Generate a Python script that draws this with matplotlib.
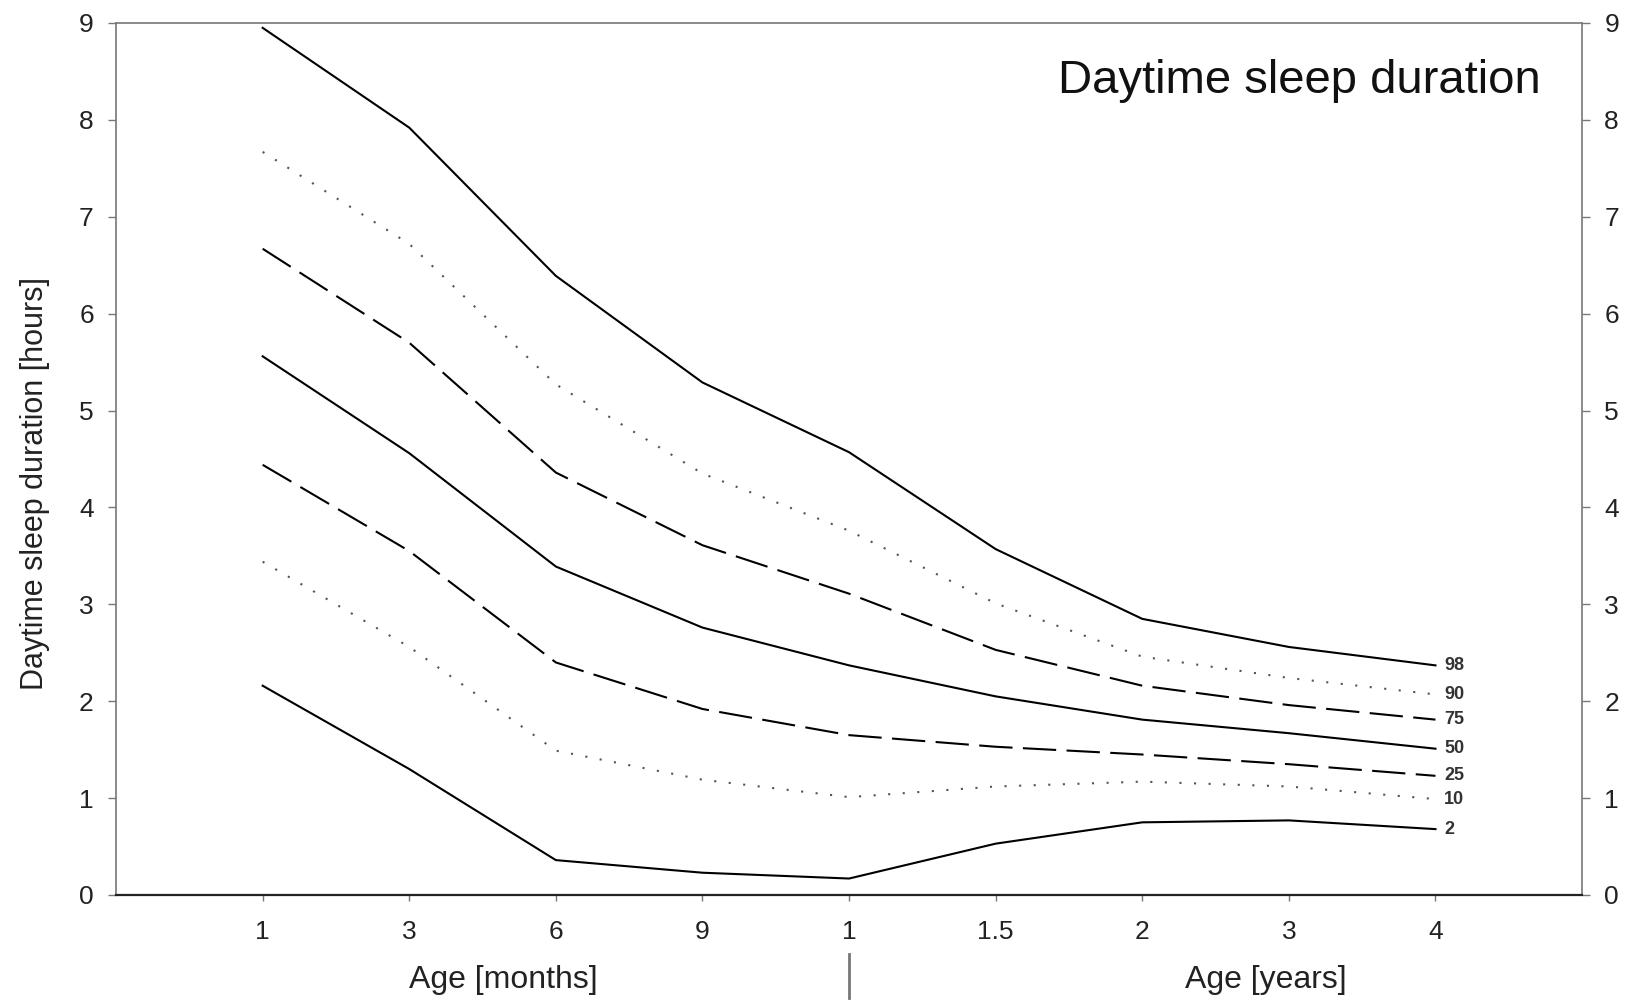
import numpy as np
import matplotlib
matplotlib.use("Agg")
import matplotlib.pyplot as plt
import matplotlib.transforms as mtransforms

plt.rcParams['font.family'] = ['Liberation Sans', 'DejaVu Sans']

# age categories on the x axis (months, then years)
tick_labels = ['1', '3', '6', '9', '1', '1.5', '2', '3', '4']

# percentile curves, daytime sleep in hours
p98 = [8.95, 7.92, 6.39, 5.29, 4.57, 3.57, 2.85, 2.56, 2.37]
p90 = [7.67, 6.72, 5.27, 4.35, 3.76, 3.01, 2.46, 2.24, 2.07]
p75 = [6.67, 5.70, 4.36, 3.61, 3.11, 2.53, 2.16, 1.96, 1.81]
p50 = [5.56, 4.56, 3.39, 2.76, 2.37, 2.05, 1.81, 1.67, 1.51]
p25 = [4.44, 3.55, 2.40, 1.92, 1.65, 1.53, 1.45, 1.35, 1.23]
p10 = [3.44, 2.56, 1.49, 1.19, 1.01, 1.12, 1.17, 1.12, 0.99]
p02 = [2.16, 1.30, 0.36, 0.23, 0.17, 0.53, 0.75, 0.77, 0.68]

pct_names = ['98', '90', '75', '50', '25', '10', '2']
curves = [p98, p90, p75, p50, p25, p10, p02]

solid = dict(color='black', lw=1.5, linestyle='-')
dotted = dict(color='#555555', lw=1.5, linestyle=(0, (1, 6)))
dashed = dict(color='black', lw=1.5, linestyle=(0, (16, 5)))
styles = [solid, dotted, dashed, solid, dashed, dotted, solid]

fig = plt.figure(figsize=(16.3, 10), dpi=100)
ax = fig.add_axes([0.0712, 0.105, 0.8994, 0.872])

x = np.arange(len(tick_labels))
for name, ys, st in zip(pct_names, curves, styles):
    ax.plot(x, ys, **st)
    ax.text(x[-1] + 0.06, ys[-1], name, fontsize=13, fontweight='bold',
            ha='left', va='center', color='#333333')

ax.set_xlim(-1, 9)
ax.set_ylim(0, 9)
ax.set_xticks(x)
ax.set_xticklabels(tick_labels)
ax.set_yticks(range(0, 10))
ax.tick_params(axis='both', labelsize=19, colors='#222222', length=6, width=1)
ax.tick_params(axis='x', length=4, pad=14, color='#777777')
ax.tick_params(axis='y', right=True, labelright=True, pad=10, color='#777777')
for s in ax.spines.values():
    s.set_color('#777777')
    s.set_linewidth(1.2)
ax.spines['bottom'].set_color('#222222')
ax.spines['bottom'].set_linewidth(1.6)

ax.set_ylabel('Daytime sleep duration [hours]', fontsize=22, color='#222222')
ax.yaxis.set_label_coords(-0.045, 0.472)

ax.text(0.972, 0.933, 'Daytime sleep duration', transform=ax.transAxes,
        fontsize=34, ha='right', va='center', color='#111111')

ax.text(0.264, -0.098, 'Age [months]', transform=ax.transAxes,
        fontsize=23, ha='center', va='center', color='#222222')
ax.text(0.784, -0.098, 'Age [years]', transform=ax.transAxes,
        fontsize=23, ha='center', va='center', color='#222222')

# separator between months and years
trans = mtransforms.blended_transform_factory(ax.transData, ax.transAxes)
ax.plot([4, 4], [-0.068, -0.118], transform=trans, color='#777777', lw=2, clip_on=False)

fig.savefig('out.png', dpi=100)
